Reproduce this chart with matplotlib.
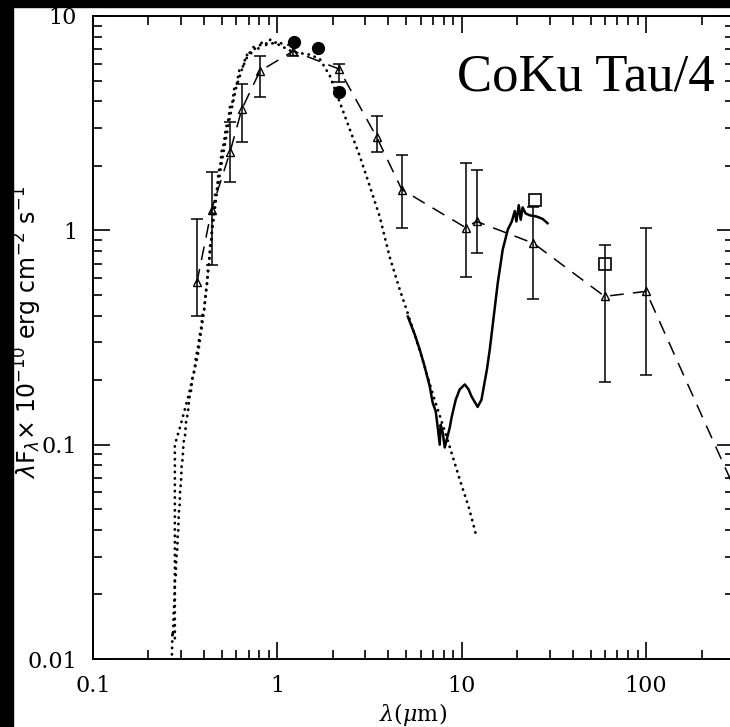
import matplotlib
matplotlib.use("Agg")
import matplotlib.pyplot as plt
from matplotlib.patches import Rectangle

# optical spectrum (noisy dotted band), microns / 1e-10 erg cm-2 s-1
opt_wl = [0.268, 0.270, 0.272, 0.274, 0.276, 0.278, 0.281, 0.283, 0.286, 0.288,
          0.290, 0.292, 0.295, 0.297, 0.300, 0.303, 0.306, 0.310, 0.315, 0.320,
          0.327, 0.333, 0.340, 0.347, 0.355, 0.362, 0.370, 0.378, 0.385, 0.392,
          0.400, 0.408, 0.415, 0.420, 0.426, 0.432, 0.438, 0.445, 0.452, 0.460,
          0.470, 0.480, 0.490, 0.500, 0.513, 0.525, 0.540, 0.555, 0.570, 0.585,
          0.603, 0.625, 0.650, 0.680, 0.710, 0.745, 0.785, 0.825, 0.866, 0.915,
          0.969, 1.02, 1.07]
opt_f = [0.0105, 0.0135, 0.0128, 0.0170, 0.0180, 0.0230, 0.0240, 0.0300, 0.0310, 0.0380,
         0.0395, 0.0480, 0.0520, 0.0620, 0.0660, 0.0820, 0.0850, 0.1030, 0.108, 0.129,
         0.140, 0.165, 0.178, 0.207, 0.222, 0.258, 0.280, 0.320, 0.345, 0.400,
         0.420, 0.505, 0.560, 0.660, 0.700, 0.850, 0.880, 1.13, 1.17, 1.50,
         1.55, 1.86, 2.02, 2.38, 2.55, 3.00, 3.20, 3.85, 3.95, 4.65,
         4.85, 5.70, 5.80, 6.60, 6.50, 7.20, 7.00, 7.55, 7.30, 7.75,
         7.50, 7.60, 7.35]

# stellar photosphere model (smooth dotted)
mod_wl = [0.278, 0.278, 0.30, 0.33, 0.37, 0.40, 0.42, 0.44, 0.47, 0.50,
          0.55, 0.60, 0.65, 0.70, 0.80, 0.90, 1.0, 1.21, 1.50, 1.70,
          1.93, 2.18, 2.47, 2.80, 3.17, 3.59, 4.07, 4.61, 5.10, 6.0,
          7.0, 8.39, 9.75, 11.0, 12.05]
mod_f = [0.0125, 0.10, 0.125, 0.17, 0.26, 0.42, 0.62, 0.95, 1.5, 2.1,
         3.3, 4.7, 5.8, 6.7, 7.3, 7.5, 7.4, 6.8, 6.6, 6.3,
         5.24, 3.96, 2.96, 2.22, 1.61, 1.16, 0.75, 0.53, 0.41, 0.265,
         0.17, 0.105, 0.069, 0.050, 0.037]

# IRS spectrum (solid)
irs_wl = [5.10, 5.56, 5.92, 6.30, 6.71, 6.96, 7.23, 7.41, 7.60, 7.69,
          7.89, 8.09, 8.29, 8.61, 8.83, 9.28, 9.75, 10.4, 10.9, 11.3,
          12.2, 12.8, 13.7, 14.2, 14.7, 15.7, 16.7, 17.8, 18.7, 19.4,
          19.8, 20.4, 20.9, 21.4, 22.2, 23.4, 25.5, 27.5, 29.2]
irs_f = [0.396, 0.327, 0.278, 0.231, 0.187, 0.157, 0.143, 0.121, 0.100, 0.124,
         0.114, 0.097, 0.1055, 0.120, 0.135, 0.162, 0.181, 0.191, 0.181, 0.168,
         0.150, 0.162, 0.224, 0.278, 0.356, 0.571, 0.815, 1.01, 1.10, 1.23,
         1.10, 1.31, 1.12, 1.28, 1.20, 1.175, 1.16, 1.13, 1.08]

# Taurus median SED (dashed, triangles with error bars)
med_wl = [0.366, 0.44, 0.553, 0.642, 0.804, 1.22, 2.16, 3.46, 4.73, 10.5,
          12.05, 24.5, 59.6, 100, 1300]
med_f = [0.571, 1.25, 2.31, 3.68, 5.53, 6.86, 5.66, 2.72, 1.55, 1.03,
         1.10, 0.87, 0.492, 0.519, 0.0038]
med_hi = [1.125, 1.87, 3.20, 4.81, 6.50, 7.30, 5.97, 3.41, 2.24, 2.06,
          1.91, 1.29, 0.851, 1.02, 0.006]
med_lo = [0.40, 0.69, 1.68, 2.58, 4.18, 6.50, 4.92, 2.31, 1.03, 0.603,
          0.781, 0.476, 0.197, 0.212, 0.002]

# 2MASS photometry (filled circles) and IRAS (open squares)
jhk_wl = [1.23, 1.66, 2.17]
jhk_f = [7.56, 7.09, 4.41]
iras_wl = [25, 60]
iras_f = [1.38, 0.694]

xticks = [0.1, 1, 10, 100]
xticklabels = ["0.1", "1", "10", "100"]
yticks = [0.01, 0.1, 1, 10]
yticklabels = ["0.01", "0.1", "1", "10"]

fig = plt.figure(figsize=(7.3, 7.27), dpi=100)
fig.patch.set_facecolor("white")
# black scan border at top and left
fig.patches.append(Rectangle((0, 1 - 7 / 727), 1, 7 / 727, transform=fig.transFigure,
                             color="black", zorder=-1))
fig.patches.append(Rectangle((0, 0), 13 / 730, 1, transform=fig.transFigure,
                             color="black", zorder=-1))

ax = fig.add_axes([93 / 730, 68 / 727, 641 / 730, 643 / 727])
ax.set_xscale("log")
ax.set_yscale("log")
ax.set_xlim(0.1, 300)
ax.set_ylim(0.01, 10)

dot = dict(color="black", lw=2.0, linestyle=(0, (0.1, 2.2)), dash_capstyle="round")
ax.plot(opt_wl, opt_f, **dot)
ax.plot(mod_wl, mod_f, **dot)
ax.plot(irs_wl, irs_f, color="black", lw=1.8)

yerr = [[f - lo for f, lo in zip(med_f, med_lo)], [hi - f for f, hi in zip(med_f, med_hi)]]
ax.errorbar(med_wl, med_f, yerr=yerr, fmt="none", ecolor="black", elinewidth=1.1,
            capsize=4.5, capthick=1.1)
ax.plot(med_wl, med_f, color="black", lw=1.1, linestyle=(0, (9, 6)),
        marker="^", markersize=5.5, markerfacecolor="none", markeredgewidth=1.0)
ax.plot(jhk_wl, jhk_f, "o", color="black", markersize=8.5)
ax.plot(iras_wl, iras_f, "s", color="black", markersize=8, markerfacecolor="none",
        markeredgewidth=1.2)

ax.text(0.979, 0.876, "CoKu Tau/4", transform=fig.transFigure, ha="right",
        va="baseline", fontsize=38, family="Liberation Serif")

for s in ax.spines.values():
    s.set_linewidth(1.4)
ax.tick_params(which="both", direction="in", top=True, right=True, width=1.2)
ax.tick_params(which="major", length=12, pad=11.5, labelsize=16)
ax.tick_params(which="minor", length=6.5)
ax.set_xticks(xticks, xticklabels, family="DejaVu Serif")
ax.set_yticks(yticks, yticklabels, family="DejaVu Serif")

xl = ax.set_xlabel(r"$\lambda(\mu$m$)$", fontsize=16, family="DejaVu Serif", labelpad=3)
xl.set_math_fontfamily("dejavuserif")
yl = ax.set_ylabel(r"$\lambda$F$_\lambda$$\times$ 10$^{-10}$ erg cm$^{-2}$ s$^{-1}$",
                   fontsize=17, family="DejaVu Sans")
ax.yaxis.set_label_coords(-0.077, 0.507)

fig.savefig("out.png", dpi=100)
